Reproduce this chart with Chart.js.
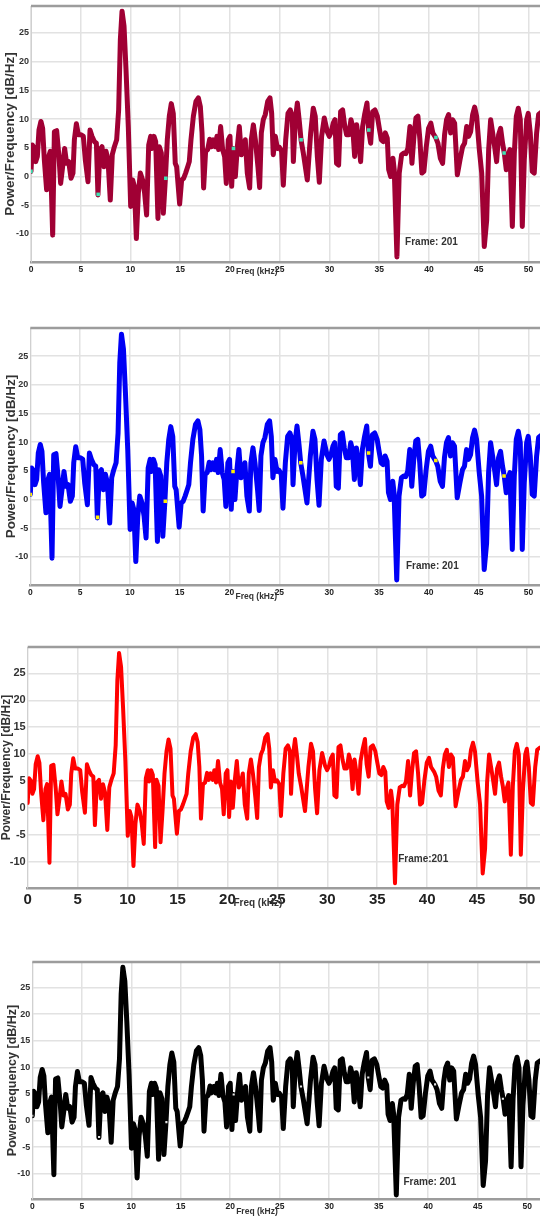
<!DOCTYPE html>
<html>
<head>
<meta charset="utf-8">
<script src="https://cdn.jsdelivr.net/npm/chart.js@4.4.1/dist/chart.umd.min.js"></script>
<style>
    html, body { margin: 0; padding: 0; background: #fff; }
    body { width: 540px; height: 1217px; position: relative; overflow: hidden; }
    canvas { position: absolute; left: 0; }
</style>
</head>
<body>
<canvas id="c1"></canvas>
<canvas id="c2"></canvas>
<canvas id="c3"></canvas>
<canvas id="c4"></canvas>
<script>
// ========== 数据 ==========
const freqKHz = [
    0, 0.13, 0.33, 0.47, 0.64, 0.8, 1.0, 1.17, 1.34, 1.57, 1.78, 1.94, 2.18, 2.35, 2.58, 2.81, 2.98,
    3.18, 3.38, 3.58, 3.79, 4.02, 4.22, 4.36, 4.56, 4.76, 5.03, 5.26, 5.46, 5.73, 5.93, 6.13, 6.37,
    6.57, 6.73, 6.93, 7.14, 7.34, 7.54, 7.74, 7.97, 8.17, 8.38, 8.61, 8.81, 8.98, 9.15, 9.35, 9.55,
    9.78, 10.02, 10.22, 10.39, 10.59, 10.79, 10.99, 11.22, 11.42, 11.62, 11.83, 12.03, 12.16, 12.36,
    12.53, 12.76, 12.9, 13.1, 13.3, 13.5, 13.7, 13.9, 14.1, 14.3, 14.5, 14.64, 14.94, 15.14, 15.34,
    15.54, 15.75, 15.91, 16.08, 16.32, 16.58, 16.82, 17.02, 17.19, 17.35, 17.55, 17.76, 17.96, 18.12,
    18.32, 18.53, 18.69, 18.86, 19.06, 19.26, 19.46, 19.63, 19.83, 20.0, 20.17, 20.34, 20.54, 20.74,
    20.94, 21.14, 21.34, 21.54, 21.74, 21.98, 22.14, 22.35, 22.55, 22.81, 22.98, 23.15, 23.35, 23.55,
    23.79, 24.02, 24.19, 24.35, 24.56, 24.76, 24.96, 25.19, 25.36, 25.6, 25.83, 26.06, 26.26, 26.37,
    26.57, 26.77, 26.97, 27.14, 27.37, 27.77, 28.11, 28.37, 28.57, 28.78, 28.98, 29.21, 29.48, 29.78,
    29.98, 30.18, 30.38, 30.55, 30.71, 30.92, 31.12, 31.32, 31.52, 31.72, 31.96, 32.16, 32.33, 32.53,
    32.73, 32.93, 33.13, 33.33, 33.53, 33.77, 33.94, 34.14, 34.34, 34.57, 34.81, 35.01, 35.21, 35.41,
    35.61, 35.81, 35.95, 36.15, 36.38, 36.51, 36.78, 37.01, 37.25, 37.48, 37.68, 37.88, 38.09, 38.29,
    38.49, 38.69, 38.89, 39.09, 39.29, 39.49, 39.73, 39.96, 40.19, 40.39, 40.7, 40.9, 41.14, 41.37,
    41.57, 41.77, 41.97, 42.18, 42.38, 42.58, 42.85, 43.12, 43.38, 43.58, 43.79, 43.99, 44.19, 44.39,
    44.59, 44.79, 45.06, 45.3, 45.56, 45.8, 46.0, 46.2, 46.4, 46.6, 46.8, 47.0, 47.2, 47.4, 47.57,
    47.77, 47.94, 48.14, 48.38, 48.58, 48.78, 48.98, 49.18, 49.38, 49.58, 49.82, 49.98, 50.18, 50.38,
    50.58, 50.82, 51.02, 51.3
];
const powerDb = [
    0.9, 5.5, 5.0, 2.6, 3.5, 8.1, 9.6, 8.4, 2.9, -2.3, 3.5, 4.4, -10.2, 7.8, 8.0, 3.5, -1.2,
    1.7, 4.9, 2.3, 2.6, -0.3, 0.6, 6.4, 9.2, 7.3, 7.3, 7.0, 2.9, -0.9, 8.1, 7.0, 6.1,
    5.8, -3.2, 4.7, 5.2, 1.7, 4.4, 2.9, -4.1, 3.8, 5.2, 6.4, 11.6, 23.8, 28.8, 26.2, 18.6,
    8.7, -5.2, -0.6, -1.7, -10.8, -2.9, 0.6, -0.6, -2.9, -6.7, 5.5, 7.0, 4.9, 7.0,
    6.1, -7.3, 5.2, 4.1, -6.4, -0.6, 6.4, 10.5, 12.7, 11.0, 2.3, 1.7, -4.8, -0.6, -0.3,
    0.6, 1.7, 2.6, 6.4, 10.5, 13.1, 13.7, 12.2, 7.6, -2.0, 4.4, 4.7, 6.5, 5.2,
    6.4, 5.2, 7.0, 4.7, 8.7, 4.7, 3.5, -1.2, 6.4, 7.0, -1.7, 4.9, 0, 5.2,
    8.7, 3.8, 4.7, 6.4, 0.6, -2.0, 6.4, 9.0, 6.4, 1.7, -1.9, 7.6, 9.9, 10.8,
    13.1, 13.7, 11.0, 3.8, 7.0, 4.9, 5.1, 4.4, -1.5, 6.4, 11.0, 11.6, 10.5, 2.6,
    9.9, 12.8, 9.6, 6.4, 4.1, -0.6, 7.6, 11.9, 10.5, 3.5, -1.0, 7.0, 10.2, 7.8,
    7.0, 7.8, 9.3, 9.9, 2.3, 2.0, 11.3, 11.6, 9.0, 7.3, 7.3, 9.9, 8.7, 3.5,
    9.0, 6.4, 2.6, 8.7, 10.8, 12.8, 8.1, 5.8, 11.3, 11.6, 10.5, 8.4, 6.4, 6.1,
    7.6, 6.7, 1.2, 0, 3.2, 1.2, -14.0, 0.6, 3.8, 4.1, 4.0, 4.9, 8.7, 2.3,
    7.0, 10.2, 10.5, 6.4, 0.6, 0.9, 5.2, 8.4, 9.3, 7.6, 6.7, 5.8, 3.2, 2.3,
    7.3, 9.9, 10.8, 7.6, 9.9, 9.3, 0.3, 2.9, 5.2, 5.8, 8.7, 7.0, 7.8, 10.8,
    12.1, 10.5, 4.7, 0.6, -12.2, -7.6, 4.7, 9.9, 7.6, 5.2, 2.6, 7.3, 8.4, 5.8, 4.1,
    1.2, 3.5, 4.7, -8.7, 4.1, 10.5, 11.9, 9.9, -8.7, 2.9, 9.9, 11.0, 7.6, 0.9,
    0.6, 7.6, 10.8, 11.2
];
// 谐波标记点
const markerKHz = [0, 6.75, 13.55, 20.35, 27.15, 33.95, 40.7, 47.55];
const markerDb = [0.9, -3.1, -0.3, 4.9, 6.4, 8.1, 6.8, 4.1];
// 刻度
const xTicks = [0, 5, 10, 15, 20, 25, 30, 35, 40, 45, 50];
const yTicks = [-10, -5, 0, 5, 10, 15, 20, 25];
const yTitle = 'Power/Frequency [dB/Hz]';
const xTitle = 'Freq (kHz)';

// ========== 面板样式 ==========
const FONT = '"Liberation Sans", Arial, sans-serif';
const panels = [
    { id: 'c1', top: 6, bottom: 262, left: 31, xMax: 51.16, yMin: -14.88, yMax: 29.7,
      color: '#a00034', width: 5, marker: '#3fe3b4', markerSize: 2.5,
      tickSize: 9, xTickSize: 8.5, titleSize: 13.5, titleX: 10.5, axisH: 22,
      frameText: 'Frame: 201', frameX: 37.6, frameY: -11.5, frameSize: 10, freqDy: 10, freqSize: 8.5 },
    { id: 'c2', top: 328, bottom: 585, left: 30.3, xMax: 51.16, yMin: -14.88, yMax: 29.88,
      color: '#0000f5', width: 5, marker: '#ffee00', markerSize: 2.5,
      tickSize: 9, xTickSize: 8.5, titleSize: 13.5, titleX: 11, axisH: 24,
      frameText: 'Frame: 201', frameX: 37.7, frameY: -11.7, frameSize: 10, freqDy: 12, freqSize: 8.5 },
    { id: 'c3', top: 647, bottom: 888, left: 27.7, xMax: 51.3, yMin: -14.9, yMax: 29.9,
      color: '#ff0000', width: 4, marker: null, markerSize: 0,
      tickSize: 11, xTickSize: 15, titleSize: 12, titleX: 7, axisH: 30,
      frameText: 'Frame:201', frameX: 37.1, frameY: -9.6, frameSize: 10, freqDy: 15, freqSize: 10 },
    { id: 'c4', top: 962, bottom: 1199, left: 32.3, xMax: 51.3, yMin: -14.75, yMax: 29.8,
      color: '#000000', width: 5, marker: '#e6e6e6', markerSize: 1.5,
      tickSize: 9, xTickSize: 8.5, titleSize: 12.5, titleX: 13, axisH: 18,
      frameText: 'Frame: 201', frameX: 37.5, frameY: -11.6, frameSize: 10, freqDy: 13, freqSize: 8.5 }
];

const PAD_TOP = 6;

// 边框与文字
const panelDecor = {
    id: 'panelDecor',
    beforeDatasetsDraw(chart) {
        const { ctx, chartArea: a } = chart;
        ctx.save();
        ctx.strokeStyle = '#9c9c9c';
        ctx.lineWidth = 2.5;
        ctx.beginPath();
        ctx.moveTo(a.left, a.top);
        ctx.lineTo(a.right, a.top);
        ctx.stroke();
        ctx.restore();
    },
    afterDraw(chart, args, opts) {
        const p = opts.panel;
        const { ctx, chartArea: a, scales } = chart;
        ctx.save();
        ctx.fillStyle = '#333';

        // y 轴标题
        ctx.save();
        ctx.translate(p.titleX, (a.top + a.bottom) / 2);
        ctx.rotate(-Math.PI / 2);
        ctx.font = 'bold ' + p.titleSize + 'px ' + FONT;
        ctx.textAlign = 'center';
        ctx.textBaseline = 'middle';
        ctx.fillText(yTitle, 0, 0);
        ctx.restore();

        // x 轴标题
        ctx.font = 'bold ' + p.freqSize + 'px ' + FONT;
        ctx.textAlign = 'left';
        ctx.textBaseline = 'middle';
        ctx.fillText(xTitle, scales.x.getPixelForValue(20.6), a.bottom + p.freqDy);

        // 帧号
        ctx.font = 'bold ' + p.frameSize + 'px ' + FONT;
        ctx.fillText(p.frameText, scales.x.getPixelForValue(p.frameX), scales.y.getPixelForValue(p.frameY));
        ctx.restore();
    }
};

function drawPanel(p) {
    const canvas = document.getElementById(p.id);
    const h = (p.bottom - p.top) + PAD_TOP + p.axisH;
    canvas.width = 540;
    canvas.height = h;
    canvas.style.top = (p.top - PAD_TOP) + 'px';

    const datasets = [{
        label: 'psd',
        data: freqKHz.map((f, i) => ({ x: f, y: powerDb[i] })),
        borderColor: p.color,
        borderWidth: p.width,
        borderJoinStyle: 'round',
        borderCapStyle: 'round',
        pointRadius: 0,
        tension: 0,
        fill: false,
        order: 1
    }];
    if (p.marker) {
        datasets.push({
            label: 'harmonics',
            type: 'scatter',
            data: markerKHz.map((f, i) => ({ x: f, y: markerDb[i] })),
            pointStyle: 'rect',
            pointRadius: p.markerSize,
            backgroundColor: p.marker,
            borderColor: p.marker,
            borderWidth: 0,
            order: 0
        });
    }

    new Chart(canvas, {
        type: 'line',
        data: { datasets: datasets },
        options: {
            responsive: false,
            animation: false,
            layout: { autoPadding: false, padding: { top: PAD_TOP, right: 0, left: 0, bottom: 0 } },
            plugins: {
                legend: { display: false },
                tooltip: { enabled: false },
                panelDecor: { panel: p }
            },
            scales: {
                x: {
                    type: 'linear',
                    min: 0,
                    max: p.xMax,
                    afterBuildTicks: scale => { scale.ticks = xTicks.map(v => ({ value: v })); },
                    afterFit: scale => {
                        scale.height = p.axisH;
                        scale.paddingLeft = 0;
                        scale.paddingRight = 0;
                    },
                    grid: { color: '#e2e2e2', lineWidth: 1.5, drawTicks: false },
                    border: { color: '#9c9c9c', width: 2.5 },
                    ticks: {
                        padding: 3,
                        color: '#222',
                        maxRotation: 0,
                        autoSkip: false,
                        font: { family: FONT, size: p.xTickSize, weight: 'bold' }
                    }
                },
                y: {
                    min: p.yMin,
                    max: p.yMax,
                    afterBuildTicks: scale => { scale.ticks = yTicks.map(v => ({ value: v })); },
                    afterFit: scale => {
                        scale.width = p.left;
                        scale.paddingTop = 0;
                        scale.paddingBottom = 0;
                    },
                    grid: { color: '#e2e2e2', lineWidth: 1.5, drawTicks: false },
                    border: { color: '#d0d0d0', width: 1 },
                    ticks: {
                        padding: 2,
                        color: '#333',
                        autoSkip: false,
                        font: { family: FONT, size: p.tickSize, weight: 'bold' }
                    }
                }
            }
        },
        plugins: [panelDecor]
    });
}

panels.forEach(drawPanel);
</script>
</body>
</html>
